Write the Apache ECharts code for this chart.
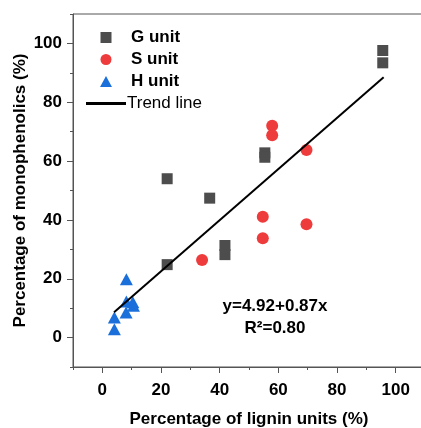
<!DOCTYPE html>
<html>
<head>
<meta charset="utf-8">
<script src="https://cdn.jsdelivr.net/npm/echarts@6/dist/echarts.min.js"></script>
<style>
html,body{margin:0;padding:0;background:#fff;}
#main{width:421px;height:428px;}
</style>
</head>
<body>
<div id="main"></div>
<script>
// G / S / H unit points: [lignin unit %, monophenolics %]
var gUnit = [[95.6,97.6],[95.6,93.4],[22.1,54.0],[36.6,47.4],[55.4,62.8],[55.4,61.3],[22.1,24.8],[41.8,31.3],[41.8,28.2]];
var sUnit = [[57.9,72.0],[57.9,68.8],[69.6,63.8],[54.7,41.1],[69.6,38.5],[54.7,33.8],[34.0,26.4]];
var hUnit = [[8.2,19.8],[8.2,12.3],[10.4,12.0],[10.6,10.8],[8.1,8.5],[4.1,6.8],[4.1,2.8]];
var trendLine = [[4.0,8.6],[95.9,88.5]];
var majorTicks = [0,20,40,60,80,100];
var minorTicks = [-10,10,30,50,70,90,110];

var font = '"Liberation Sans", Arial, sans-serif';
var axisColor = '#555';

function axes(pos, margin){
    return [{
        type: 'value', position: pos, min: -10, max: 110,
        axisLine: {show: true, onZero: false, lineStyle: {color: axisColor, width: 1}},
        axisTick: {show: true, customValues: majorTicks, length: 6, lineStyle: {color: axisColor}},
        axisLabel: {customValues: majorTicks, margin: margin, fontSize: 17, fontWeight: 'bold', color: '#000', fontFamily: font},
        splitLine: {show: false}
    },{
        type: 'value', position: pos, min: -10, max: 110,
        axisLine: {show: false, onZero: false},
        axisTick: {show: true, customValues: minorTicks, length: 3, lineStyle: {color: axisColor}},
        axisLabel: {show: false},
        splitLine: {show: false}
    }];
}

var xAxes = axes('bottom', 15);
xAxes[0].name = 'Percentage of lignin units (%)';
xAxes[0].nameLocation = 'middle';
xAxes[0].nameGap = 44;
xAxes[0].nameMoveOverlap = false;
xAxes[0].nameTextStyle = {fontSize: 17, fontWeight: 'bold', color: '#000', fontFamily: font};
var yAxes = axes('left', 11);
yAxes[0].name = 'Percentage of monophenolics (%)';
yAxes[0].nameLocation = 'middle';
yAxes[0].nameGap = 44;
yAxes[0].nameMoveOverlap = false;
yAxes[0].nameTextStyle = {fontSize: 17, fontWeight: 'bold', color: '#000', fontFamily: font};

var chart = echarts.init(document.getElementById('main'));
chart.setOption({
    animation: false,
    grid: {left: 73, top: 14, width: 352, height: 353, show: true, borderColor: axisColor, borderWidth: 1, outerBoundsMode: 'none', containLabel: false},
    xAxis: xAxes,
    yAxis: yAxes,
    legend: {
        orient: 'vertical', left: 81, top: 24,
        itemWidth: 40, itemHeight: 11, itemGap: 5,
        symbolKeepAspect: true,
        data: [
            {name: 'G unit', icon: 'path://M0,0L10,0L10,10L0,10Z'},
            {name: 'S unit', icon: 'circle'},
            {name: 'H unit', icon: 'path://M6.5,0L13,12L0,12Z'},
            {name: 'Trend line', icon: 'path://M0,0L40,0L40,3L0,3Z', itemStyle: {color: '#000'}}
        ],
        formatter: function(name){
            return name === 'Trend line' ? '{n|' + name + '}' : '{b|' + name + '}';
        },
        textStyle: {
            rich: {
                b: {fontSize: 17, fontWeight: 'bold', color: '#000', fontFamily: font, lineHeight: 17},
                n: {fontSize: 17, color: '#000', fontFamily: font, lineHeight: 17, padding: [0,0,0,-4]}
            }
        }
    },
    series: [
        {name: 'G unit', type: 'scatter', symbol: 'rect', symbolSize: 11, data: gUnit, itemStyle: {color: '#4d4d4d', opacity: 1}, z: 2},
        {name: 'S unit', type: 'scatter', symbol: 'circle', symbolSize: 12, data: sUnit, itemStyle: {color: '#ee3b3b', opacity: 1}, z: 2},
        {name: 'H unit', type: 'scatter', symbol: 'triangle', symbolSize: [13,12], data: hUnit, itemStyle: {color: '#1b6fdb', opacity: 1}, z: 2},
        {name: 'Trend line', type: 'line', symbol: 'none', showSymbol: false, data: trendLine, lineStyle: {color: '#000', width: 2}, itemStyle: {color: '#000'}, z: 3}
    ],
    graphic: [
        {type: 'text', x: 275, y: 306, style: {text: 'y=4.92+0.87x', font: 'bold 17px ' + font, fill: '#000', align: 'center', verticalAlign: 'middle'}},
        {type: 'text', x: 275, y: 328, style: {text: 'R\u00b2=0.80', font: 'bold 17px ' + font, fill: '#000', align: 'center', verticalAlign: 'middle'}}
    ]
});
</script>
</body>
</html>
